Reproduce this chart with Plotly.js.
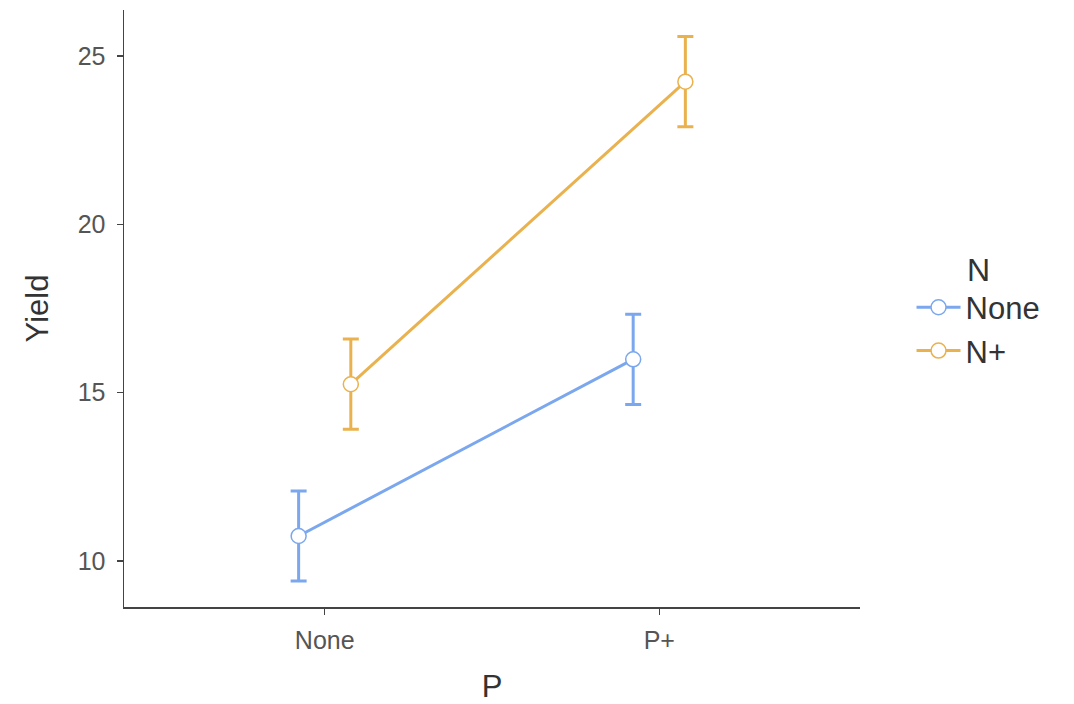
<!DOCTYPE html>
<html>
<head>
<meta charset="utf-8">
<script src="https://cdn.plot.ly/plotly-3.0.1.min.js"></script>
<style>html,body{margin:0;padding:0;background:#fff;}#chart{width:1074px;height:704px;}</style>
</head>
<body>
<div id="chart"></div>
<script>
const categories = ["None", "P+"];
const categoryPos = [1, 2];
const groupNames = ["None", "N+"];
const yieldNone = [10.74, 15.99];
const yieldNPlus = [15.25, 24.24];
const errNone = [1.34, 1.34];
const errNPlus = [1.34, 1.34];
const dodge = [-0.078, 0.078];
const colors = ["#7BA7EE", "#E9B24E"];

const seriesVals = [yieldNone, yieldNPlus];
const seriesErr = [errNone, errNPlus];

const traces = groupNames.map((name, i) => ({
  type: "scatter",
  mode: "lines+markers",
  name: name,
  x: categoryPos.map(p => p + dodge[i]),
  y: seriesVals[i],
  line: {color: colors[i], width: 3},
  marker: {symbol: "circle", size: 15, color: "#ffffff", line: {color: colors[i], width: 1.5}},
  error_y: {type: "data", array: seriesErr[i], visible: true, color: colors[i], thickness: 3, width: 8},
  cliponaxis: false
}));

const font = "Liberation Sans, Arial, sans-serif";
const layout = {
  width: 1074, height: 704,
  margin: {l: 124, r: 214, t: 10, b: 97},
  paper_bgcolor: "#ffffff", plot_bgcolor: "#ffffff",
  font: {family: font, color: "#333333"},
  showlegend: true,
  xaxis: {
    range: [0.4, 2.6],
    tickvals: categoryPos, ticktext: categories,
    showgrid: false, zeroline: false,
    showline: true, linecolor: "#444444", linewidth: 1.5,
    ticks: "outside", ticklen: 6, tickwidth: 1.5, tickcolor: "#444444",
    tickfont: {size: 25, color: "#555555", family: font},
    ticklabelstandoff: 4,
    title: {text: "P", font: {size: 31, color: "#333333", family: font}, standoff: 30}
  },
  yaxis: {
    range: [8.63, 26.37],
    tickvals: [10, 15, 20, 25],
    showgrid: false, zeroline: false,
    showline: true, linecolor: "#444444", linewidth: 1.5,
    ticks: "outside", ticklen: 6, tickwidth: 1.5, tickcolor: "#444444",
    tickfont: {size: 25, color: "#555555", family: font},
    ticklabelstandoff: 6,
    title: {text: "Yield", font: {size: 31, color: "#333333", family: font}, standoff: 20}
  },
  legend: {
    x: 1.07, xanchor: "left", y: 0.5, yanchor: "middle",
    font: {size: 31, color: "#333333", family: font},
    title: {text: "N", side: "top center", font: {size: 32, color: "#333333", family: font}},
    itemwidth: 44, tracegroupgap: 0
  }
};

Plotly.newPlot("chart", traces, layout, {displayModeBar: false, staticPlot: true});
</script>
</body>
</html>
